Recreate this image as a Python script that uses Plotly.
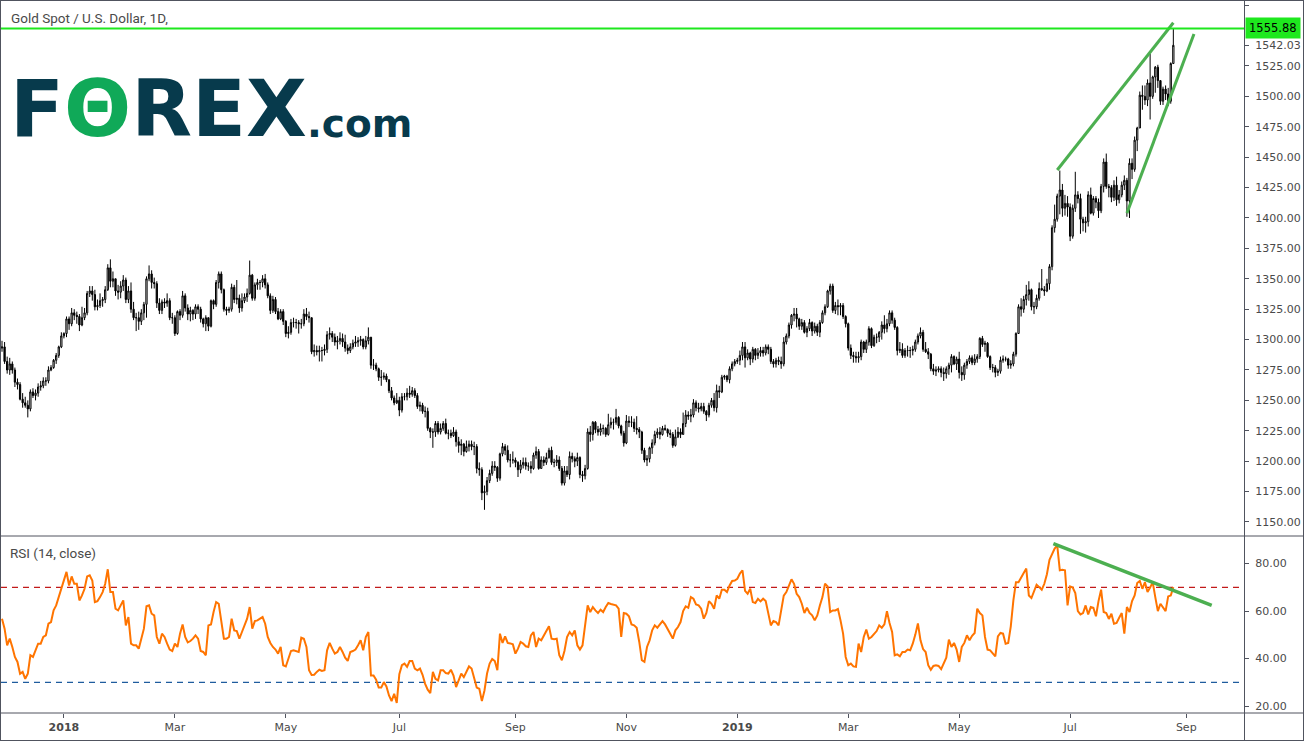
import pandas as pd
import plotly.graph_objects as go

# ---------------- DATA ----------------
first_open = 1293.0
# daily closes, one line per month (Nov 2017 .. Aug 2019)
closes = [
    1294, 1282, 1275,
    1280, 1275, 1265, 1263, 1251, 1248, 1246, 1243, 1257, 1254, 1256, 1261, 1262, 1266, 1266, 1275, 1277, 1283, 1287, 1294, 1303,
    1305, 1317, 1313, 1322, 1320, 1319, 1312, 1318, 1322, 1338, 1340, 1337, 1327, 1328, 1332, 1333, 1341, 1359, 1348, 1350, 1340, 1339, 1344,
    1349, 1333, 1340, 1325, 1318, 1318, 1315, 1322, 1329, 1350, 1354, 1347, 1346, 1330, 1324, 1331, 1330, 1332, 1318, 1318,
    1305, 1323, 1320, 1336, 1326, 1321, 1324, 1321, 1327, 1325, 1317, 1313, 1318, 1311, 1332, 1329, 1347, 1354, 1341, 1325, 1324, 1325,
    1343, 1333, 1334, 1326, 1332, 1335, 1338, 1353, 1334, 1345, 1347, 1347, 1350, 1345, 1336, 1324, 1333, 1323, 1317, 1323, 1315,
    1305, 1306, 1314, 1314, 1314, 1313, 1313, 1321, 1319, 1318, 1290, 1291, 1290, 1291, 1291, 1292, 1304, 1305, 1302, 1298, 1299, 1301, 1298,
    1293, 1291, 1294, 1297, 1298, 1299, 1300, 1294, 1299, 1302, 1279, 1279, 1276, 1269, 1269, 1270, 1267, 1258, 1252, 1248, 1250,
    1242, 1253, 1253, 1256, 1255, 1258, 1254, 1245, 1246, 1241, 1241, 1227, 1224, 1224, 1231, 1224, 1227, 1231, 1223, 1223, 1221, 1224,
    1216, 1213, 1214, 1208, 1212, 1214, 1212, 1212, 1194, 1193, 1174, 1175, 1184, 1190, 1196, 1195, 1186, 1206, 1212, 1209, 1201, 1201, 1201,
    1199, 1193, 1197, 1199, 1196, 1196, 1194, 1205, 1208, 1194, 1201, 1199, 1203, 1209, 1199, 1199, 1201, 1194, 1182, 1192,
    1189, 1204, 1202, 1200, 1203, 1189, 1188, 1194, 1224, 1222, 1232, 1226, 1224, 1227, 1227, 1222, 1230, 1232, 1232, 1236, 1229, 1223, 1215,
    1233, 1232, 1232, 1227, 1226, 1224, 1209, 1201, 1202, 1211, 1215, 1222, 1224, 1222, 1227, 1226, 1223, 1222, 1213, 1220, 1224, 1222,
    1231, 1238, 1237, 1238, 1248, 1244, 1243, 1245, 1241, 1238, 1246, 1250, 1244, 1258, 1257, 1269, 1270, 1267, 1276, 1280, 1282,
    1283, 1287, 1294, 1285, 1289, 1284, 1292, 1287, 1289, 1291, 1289, 1294, 1292, 1282, 1280, 1283, 1282, 1280, 1298, 1303, 1312, 1320, 1321,
    1317, 1311, 1314, 1306, 1309, 1314, 1307, 1311, 1306, 1314, 1322, 1327, 1340, 1344, 1324, 1328, 1327, 1328, 1319, 1313,
    1293, 1287, 1286, 1285, 1286, 1298, 1292, 1298, 1309, 1295, 1302, 1302, 1306, 1312, 1309, 1313, 1322, 1316, 1310, 1291, 1292,
    1287, 1291, 1291, 1291, 1292, 1298, 1303, 1306, 1292, 1290, 1288, 1276, 1274, 1275, 1276, 1273, 1272, 1276, 1279, 1286, 1280, 1284,
    1273, 1271, 1279, 1282, 1285, 1281, 1284, 1286, 1301, 1296, 1297, 1286, 1277, 1277, 1273, 1274, 1283, 1284, 1284, 1279, 1280, 1288, 1305,
    1327, 1325, 1333, 1337, 1341, 1327, 1327, 1334, 1342, 1341, 1340, 1346, 1360, 1392, 1399, 1418, 1423, 1408, 1412, 1409,
    1385, 1408, 1419, 1416, 1399, 1396, 1397, 1419, 1404, 1416, 1413, 1406, 1426, 1446, 1426, 1425, 1417, 1427, 1415, 1419, 1427, 1431, 1414,
    1445, 1440, 1464, 1474, 1501, 1500, 1497, 1511, 1500, 1516, 1524, 1513, 1496, 1506, 1502, 1496, 1527, 1542.03,
]
highs = [
    1299, 1298, 1286,
    1285, 1282, 1277, 1268, 1265, 1256, 1253, 1250, 1259, 1260, 1259, 1264, 1266, 1269, 1269, 1278, 1279, 1284, 1289, 1295, 1306,
    1306, 1319, 1319, 1326, 1325, 1323, 1321, 1327, 1326, 1340, 1344, 1344, 1341, 1333, 1338, 1335, 1344, 1362, 1366, 1356, 1350, 1345, 1348,
    1353, 1351, 1344, 1347, 1331, 1322, 1323, 1325, 1331, 1352, 1361, 1357, 1351, 1348, 1334, 1333, 1334, 1338, 1334, 1322,
    1320, 1324, 1325, 1340, 1338, 1329, 1327, 1325, 1329, 1329, 1327, 1318, 1320, 1318, 1333, 1333, 1349, 1356, 1356, 1342, 1327, 1327,
    1346, 1345, 1349, 1337, 1338, 1338, 1342, 1365, 1354, 1347, 1350, 1349, 1353, 1354, 1347, 1338, 1336, 1335, 1326, 1325, 1325,
    1316, 1311, 1317, 1318, 1317, 1316, 1317, 1325, 1326, 1323, 1318, 1296, 1295, 1295, 1294, 1296, 1307, 1310, 1307, 1305, 1303, 1306, 1305,
    1304, 1296, 1297, 1300, 1303, 1302, 1303, 1301, 1303, 1310, 1302, 1284, 1281, 1277, 1275, 1273, 1272, 1267, 1261, 1254, 1256,
    1253, 1256, 1256, 1260, 1262, 1261, 1260, 1256, 1249, 1248, 1245, 1244, 1228, 1227, 1233, 1233, 1231, 1233, 1235, 1226, 1226, 1228,
    1226, 1220, 1218, 1215, 1217, 1217, 1217, 1216, 1214, 1199, 1195, 1180, 1187, 1193, 1200, 1200, 1196, 1207, 1215, 1214, 1213, 1206, 1208,
    1203, 1200, 1201, 1203, 1203, 1199, 1200, 1207, 1212, 1210, 1204, 1204, 1207, 1211, 1212, 1202, 1205, 1204, 1196, 1196,
    1196, 1208, 1207, 1204, 1207, 1204, 1192, 1197, 1227, 1229, 1233, 1233, 1229, 1231, 1230, 1228, 1239, 1236, 1235, 1243, 1237, 1230, 1225,
    1238, 1237, 1237, 1235, 1237, 1228, 1225, 1211, 1205, 1212, 1218, 1225, 1227, 1228, 1229, 1230, 1227, 1226, 1224, 1226, 1228, 1227,
    1240, 1242, 1241, 1243, 1251, 1250, 1248, 1248, 1248, 1242, 1248, 1252, 1256, 1263, 1262, 1271, 1271, 1271, 1278, 1282, 1284,
    1285, 1291, 1298, 1298, 1292, 1290, 1294, 1293, 1293, 1294, 1294, 1296, 1296, 1294, 1284, 1285, 1286, 1286, 1302, 1305, 1314, 1321, 1326,
    1326, 1318, 1317, 1316, 1311, 1317, 1315, 1314, 1313, 1316, 1324, 1329, 1341, 1346, 1346, 1331, 1333, 1330, 1330, 1320,
    1314, 1296, 1290, 1290, 1290, 1300, 1299, 1300, 1311, 1310, 1304, 1305, 1307, 1315, 1320, 1317, 1324, 1324, 1318, 1311, 1298,
    1297, 1293, 1295, 1294, 1295, 1300, 1305, 1310, 1308, 1298, 1293, 1289, 1280, 1278, 1278, 1278, 1277, 1278, 1281, 1288, 1287, 1286,
    1290, 1278, 1281, 1284, 1287, 1287, 1288, 1288, 1302, 1303, 1299, 1298, 1287, 1280, 1279, 1276, 1286, 1287, 1286, 1285, 1283, 1290, 1306,
    1329, 1334, 1336, 1345, 1348, 1342, 1331, 1337, 1347, 1358, 1344, 1350, 1362, 1394, 1411, 1420, 1439, 1428, 1419, 1418,
    1412, 1411, 1438, 1422, 1420, 1401, 1401, 1422, 1425, 1418, 1418, 1416, 1428, 1449, 1453, 1428, 1427, 1431, 1434, 1423, 1430, 1435, 1433,
    1449, 1449, 1467, 1475, 1504, 1509, 1509, 1514, 1535, 1517, 1525, 1526, 1513, 1508, 1509, 1507, 1528, 1555.88,
]
lows = [
    1290, 1280, 1272,
    1271, 1272, 1261, 1259, 1250, 1244, 1244, 1236, 1241, 1252, 1250, 1253, 1258, 1260, 1262, 1264, 1274, 1276, 1280, 1285, 1293,
    1301, 1302, 1308, 1311, 1316, 1313, 1307, 1311, 1316, 1320, 1335, 1332, 1324, 1324, 1326, 1327, 1330, 1340, 1343, 1343, 1336, 1333, 1334,
    1340, 1330, 1330, 1322, 1316, 1307, 1308, 1312, 1316, 1318, 1348, 1342, 1342, 1326, 1321, 1321, 1326, 1327, 1316, 1313,
    1303, 1304, 1316, 1318, 1323, 1316, 1315, 1316, 1317, 1321, 1314, 1310, 1307, 1307, 1310, 1325, 1327, 1342, 1338, 1323, 1320, 1322,
    1323, 1330, 1329, 1322, 1323, 1330, 1331, 1337, 1332, 1332, 1341, 1341, 1343, 1342, 1334, 1321, 1322, 1321, 1316, 1316, 1312,
    1302, 1301, 1304, 1310, 1309, 1305, 1309, 1311, 1316, 1314, 1288, 1286, 1287, 1282, 1282, 1287, 1289, 1300, 1298, 1295, 1292, 1296, 1294,
    1290, 1288, 1289, 1292, 1294, 1294, 1295, 1292, 1292, 1296, 1276, 1275, 1274, 1266, 1262, 1267, 1265, 1256, 1250, 1246, 1247,
    1237, 1240, 1250, 1250, 1252, 1253, 1252, 1243, 1241, 1239, 1236, 1225, 1219, 1211, 1220, 1222, 1222, 1225, 1222, 1218, 1219, 1220,
    1212, 1207, 1205, 1204, 1207, 1208, 1209, 1205, 1190, 1188, 1168, 1160, 1172, 1182, 1188, 1192, 1183, 1184, 1204, 1205, 1199, 1195, 1198,
    1195, 1187, 1190, 1194, 1193, 1192, 1190, 1193, 1202, 1193, 1194, 1196, 1197, 1202, 1197, 1195, 1196, 1192, 1180, 1180,
    1187, 1185, 1199, 1195, 1196, 1186, 1183, 1185, 1193, 1216, 1217, 1223, 1221, 1221, 1222, 1220, 1221, 1227, 1226, 1230, 1227, 1221, 1212,
    1214, 1228, 1228, 1224, 1222, 1219, 1206, 1199, 1196, 1199, 1206, 1213, 1219, 1218, 1221, 1225, 1220, 1219, 1211, 1212, 1219, 1219,
    1222, 1228, 1234, 1232, 1236, 1241, 1240, 1241, 1239, 1233, 1236, 1244, 1241, 1240, 1252, 1256, 1267, 1265, 1264, 1274, 1278,
    1280, 1279, 1283, 1277, 1283, 1279, 1281, 1283, 1284, 1286, 1286, 1287, 1288, 1280, 1277, 1277, 1279, 1276, 1278, 1296, 1301, 1309, 1315,
    1310, 1308, 1308, 1305, 1302, 1307, 1303, 1305, 1303, 1302, 1313, 1320, 1326, 1337, 1322, 1321, 1320, 1320, 1317, 1310,
    1291, 1284, 1281, 1281, 1281, 1283, 1289, 1289, 1295, 1293, 1294, 1297, 1298, 1300, 1305, 1306, 1311, 1313, 1308, 1287, 1289,
    1285, 1285, 1286, 1285, 1287, 1290, 1296, 1301, 1290, 1289, 1284, 1274, 1271, 1270, 1273, 1269, 1266, 1268, 1271, 1273, 1279, 1275,
    1268, 1266, 1267, 1276, 1280, 1279, 1279, 1281, 1284, 1294, 1290, 1285, 1275, 1273, 1269, 1270, 1272, 1281, 1282, 1276, 1276, 1278, 1286,
    1305, 1319, 1322, 1328, 1332, 1324, 1321, 1325, 1332, 1340, 1336, 1339, 1341, 1357, 1388, 1397, 1403, 1401, 1402, 1401,
    1381, 1383, 1405, 1412, 1387, 1389, 1388, 1393, 1403, 1402, 1408, 1400, 1404, 1421, 1424, 1417, 1413, 1414, 1410, 1412, 1417, 1423, 1401,
    1400, 1432, 1438, 1455, 1474, 1489, 1493, 1492, 1481, 1498, 1503, 1507, 1493, 1493, 1497, 1492, 1494, 1527,
]
rsi = [
    56.8, 52.6, 45.6,
    48.4, 44.9, 40.7, 38.6, 33.6, 34.4, 31.5, 33.6, 41.4, 40.7, 43.5, 46.3, 46.3, 49.1, 49.8, 54.7, 55.4, 60.3, 62.4, 65.9, 69.4,
    72.2, 76.5, 70.8, 74.6, 71.5, 71.5, 64.5, 66.6, 69.4, 74.6, 75.1, 72.9, 63.8, 64.2, 65.9, 68.0, 71.5, 77.6, 68.0, 68.0, 61.0, 60.3, 62.4,
    64.5, 54.0, 57.5, 46.3, 45.6, 45.6, 44.2, 48.4, 52.6, 62.0, 62.4, 58.9, 58.2, 49.1, 46.3, 50.5, 49.1, 46.3, 43.8, 43.2,
    46.3, 44.9, 50.5, 54.4, 49.1, 46.8, 47.4, 48.4, 49.8, 48.4, 43.2, 42.8, 41.4, 54.0, 54.4, 59.6, 63.8, 63.1, 56.1, 48.4, 48.4, 49.1,
    56.8, 51.9, 51.6, 48.4, 51.2, 54.0, 56.8, 61.7, 52.6, 55.8, 56.1, 56.8, 57.5, 54.7, 49.1, 46.6, 44.9, 43.8, 42.1, 44.9, 37.2,
    36.7, 40.0, 43.2, 43.5, 43.2, 42.8, 48.8, 48.4, 44.9, 35.1, 33.1, 33.2, 34.4, 35.3, 34.8, 35.1, 43.5, 46.6, 44.2, 42.1, 42.8, 44.9, 42.8,
    40.4, 39.0, 42.8, 43.2, 43.8, 45.6, 47.7, 43.5, 49.1, 51.2, 32.9, 32.9, 31.1, 27.8, 27.8, 30.1, 28.3, 24.5, 22.1, 25.2, 21.3,
    33.4, 37.2, 37.9, 36.5, 39.0, 39.0, 35.8, 35.1, 35.8, 33.2, 29.4, 26.9, 25.5, 34.4, 31.5, 30.8, 35.1, 35.1, 33.9, 33.7, 35.3, 32.9,
    28.0, 30.8, 33.7, 32.2, 34.8, 36.7, 35.8, 32.2, 27.8, 27.3, 22.1, 26.6, 33.7, 37.9, 39.8, 39.0, 35.1, 50.5, 46.6, 49.4, 46.6, 46.4, 46.0,
    42.1, 44.2, 47.0, 46.3, 45.2, 44.9, 49.8, 51.2, 44.9, 48.4, 47.7, 49.8, 51.9, 53.6, 48.4, 48.2, 48.4, 41.4, 39.3, 43.2,
    49.1, 51.2, 49.8, 51.9, 45.6, 43.8, 45.6, 54.7, 62.4, 59.6, 61.7, 60.3, 59.2, 60.6, 59.6, 61.7, 63.4, 63.0, 62.8, 62.4, 61.0, 49.1, 59.2,
    58.9, 57.8, 54.4, 54.0, 53.0, 47.0, 39.3, 38.6, 44.9, 47.7, 51.9, 54.0, 53.0, 54.4, 55.8, 54.4, 52.7, 50.5, 48.4, 51.9, 53.3, 55.4,
    60.0, 62.0, 61.4, 65.9, 65.2, 62.8, 62.4, 61.0, 56.8, 59.2, 64.2, 63.1, 61.0, 66.6, 65.2, 69.0, 69.0, 68.0, 70.8, 72.7, 72.9,
    73.6, 75.8, 77.2, 68.5, 67.3, 69.4, 63.8, 63.4, 65.2, 64.1, 65.2, 64.2, 58.9, 54.0, 55.8, 55.4, 54.0, 60.3, 66.5, 68.0, 70.8, 73.4, 71.5,
    67.3, 65.9, 63.1, 59.2, 61.4, 59.2, 58.2, 56.1, 58.2, 62.4, 65.9, 71.5, 70.4, 59.6, 60.3, 60.3, 60.9, 56.1, 50.5, 40.7,
    37.2, 37.9, 36.7, 36.5, 46.3, 42.8, 49.1, 52.2, 48.4, 49.1, 50.2, 51.6, 54.0, 53.0, 54.4, 60.0, 55.0, 51.2, 41.4, 41.8, 41.0,
    42.8, 42.8, 43.8, 43.5, 46.3, 50.1, 54.8, 47.7, 44.0, 42.8, 37.2, 35.3, 36.9, 37.2, 36.9, 35.6, 38.1, 40.4, 48.0, 44.9, 46.6, 43.8,
    38.6, 44.9, 46.6, 49.8, 47.7, 49.6, 50.8, 61.0, 59.2, 58.2, 49.1, 43.8, 43.5, 42.1, 40.9, 49.4, 50.8, 50.5, 46.3, 46.6, 53.6, 64.5, 72.2,
    72.2, 74.4, 76.0, 77.9, 66.6, 65.5, 68.5, 71.1, 70.1, 69.0, 71.5, 75.5, 81.6, 84.2, 86.3, 87.7, 77.2, 77.4, 77.2, 62.4,
    70.4, 69.9, 67.6, 60.0, 58.6, 59.2, 62.4, 58.6, 61.7, 61.4, 57.8, 64.2, 69.0, 59.6, 59.2, 56.7, 58.9, 54.7, 55.0, 57.2, 59.2, 50.5, 61.7,
    59.6, 64.2, 66.6, 71.8, 72.7, 69.4, 72.2, 68.0, 69.9, 72.2, 65.9, 60.0, 63.1, 61.7, 60.0, 66.2, 66.6, 70.1,
]

start_date, end_date = "2017-11-28", "2019-08-26"

price_ticks = [1150, 1175, 1200, 1225, 1250, 1275, 1300, 1325, 1350, 1375,
               1400, 1425, 1450, 1475, 1500, 1525, 1575]
last_price = 1542.03
hline_price = 1555.88
rsi_ticks = [20, 40, 60, 80]
rsi_upper, rsi_lower = 70, 30

month_ticks = ["2018-01-01", "2018-03-01", "2018-05-01", "2018-07-02", "2018-09-03", "2018-11-01",
               "2019-01-01", "2019-03-01", "2019-05-01", "2019-07-01", "2019-09-02"]
month_labels = ["<b>2018</b>", "Mar", "May", "Jul", "Sep", "Nov",
                "<b>2019</b>", "Mar", "May", "Jul", "Sep"]

# hand-drawn trend lines (dates, values)
upper_wedge_x = ["2019-06-24 12:00", "2019-08-26 12:00"]
upper_wedge_y = [1439.5, 1560.6]
lower_wedge_x = ["2019-07-31 12:00", "2019-09-05 12:00"]
lower_wedge_y = [1404.0, 1551.3]
rsi_trend_x = ["2019-06-21 00:00", "2019-09-16 09:00"]
rsi_trend_y = [88.4, 62.4]

# ---------------- FIGURE ----------------
dates = pd.bdate_range(start_date, end_date) + pd.Timedelta(hours=12)
n = len(dates)
assert len(closes) == n and len(highs) == n and len(lows) == n and len(rsi) == n, (
    n, len(closes), len(highs), len(lows), len(rsi))
opens = [first_open] + closes[:-1]

W, H = 1305, 747
LM, RM, TM, BM = 1, 61, 1, 34
PW, PH = W - LM - RM, H - TM - BM


def pxx(p):
    return (p - LM) / PW


def pxy(p):
    return (H - BM - p) / PH


FRAME = "#50535e"
TXT = "#4a4a4a"
GREEN_H = "#1ee81e"
TREND = "#4caf50"
AX_FONT = dict(family="DejaVu Sans", size=11, color=TXT)

fig = go.Figure()
fig.add_trace(go.Candlestick(
    x=dates, open=opens, high=highs, low=lows, close=closes,
    increasing=dict(line=dict(color="#000000", width=1), fillcolor="#ffffff"),
    decreasing=dict(line=dict(color="#000000", width=1), fillcolor="#000000"),
    whiskerwidth=0, xaxis="x", yaxis="y", showlegend=False, hoverinfo="skip"))
fig.add_trace(go.Scatter(x=upper_wedge_x, y=upper_wedge_y, mode="lines",
                         line=dict(color=TREND, width=3), xaxis="x", yaxis="y",
                         showlegend=False, hoverinfo="skip"))
fig.add_trace(go.Scatter(x=lower_wedge_x, y=lower_wedge_y, mode="lines",
                         line=dict(color=TREND, width=3), xaxis="x", yaxis="y",
                         showlegend=False, hoverinfo="skip"))
fig.add_trace(go.Scatter(x=dates, y=rsi, mode="lines",
                         line=dict(color="#ff7400", width=2), xaxis="x2", yaxis="y2",
                         showlegend=False, hoverinfo="skip"))
fig.add_trace(go.Scatter(x=rsi_trend_x, y=rsi_trend_y, mode="lines",
                         line=dict(color=TREND, width=3.5), xaxis="x2", yaxis="y2",
                         showlegend=False, hoverinfo="skip"))

x_range = ["2017-11-28 02:40", "2019-10-02 21:20"]
rb = [dict(bounds=["sat", "mon"])]

shapes = []
# RSI bands
for val, col in ((rsi_upper, "#c21a1a"), (rsi_lower, "#1f5c9e")):
    shapes.append(dict(type="line", xref="paper", yref="y2", x0=0, x1=1, y0=val, y1=val,
                       line=dict(color=col, width=1.2, dash="6px,5px"), layer="below"))
# horizontal price level
shapes.append(dict(type="line", xref="paper", yref="y", x0=pxx(0), x1=1, y0=hline_price, y1=hline_price,
                   line=dict(color=GREEN_H, width=2)))


# frame / separators
def hline(yp, x0=0, x1=1304):
    shapes.append(dict(type="line", xref="paper", yref="paper", x0=pxx(x0), x1=pxx(x1),
                       y0=pxy(yp), y1=pxy(yp), line=dict(color=FRAME, width=1)))


def vline(xp, y0=0, y1=741):
    shapes.append(dict(type="line", xref="paper", yref="paper", x0=pxx(xp), x1=pxx(xp),
                       y0=pxy(y0), y1=pxy(y1), line=dict(color=FRAME, width=1)))


hline(0.5); hline(536); hline(713); hline(740.5)
vline(0.5); vline(1244.5); vline(1303.5)

annotations = [
    dict(xref="paper", yref="paper", x=pxx(9), y=pxy(18), xanchor="left", yanchor="middle",
         text="Gold Spot / U.S. Dollar, 1D,", showarrow=False,
         font=dict(family="Roboto", size=13.5, color=TXT)),
    dict(xref="paper", yref="paper", x=pxx(8), y=pxy(553), xanchor="left", yanchor="middle",
         text="RSI (14, close)", showarrow=False,
         font=dict(family="Roboto", size=13.5, color=TXT)),
    dict(xref="paper", yref="paper", x=pxx(8), y=pxy(109), xanchor="left", yanchor="middle",
         text="<b>F<span style='color:#10a958'>Θ</span>REX</b>", showarrow=False,
         font=dict(family="DejaVu Sans", size=79, color="#073a4c")),
    dict(xref="paper", yref="paper", x=pxx(305), y=pxy(123), xanchor="left", yanchor="middle",
         text="<b>.com</b>", showarrow=False,
         font=dict(family="DejaVu Sans", size=39, color="#073a4c")),
    dict(xref="paper", yref="y", x=pxx(1245), y=hline_price, xanchor="left", yanchor="middle",
         text="%.2f" % hline_price, showarrow=False, bgcolor=GREEN_H, borderpad=3,
         font=dict(family="DejaVu Sans", size=11.5, color="#000000")),
]

ytickvals = sorted(price_ticks + [last_price])
yticktext = ["%.2f" % v for v in ytickvals]

fig.update_layout(
    width=W, height=H, margin=dict(l=LM, r=RM, t=TM, b=BM, pad=0),
    paper_bgcolor="#ffffff", plot_bgcolor="#ffffff",
    showlegend=False, hovermode=False,
    xaxis=dict(domain=[0, 1], anchor="y", range=x_range, rangebreaks=rb, type="date",
               showticklabels=False, ticks="", showgrid=False, zeroline=False, showline=False,
               rangeslider=dict(visible=False)),
    xaxis2=dict(domain=[0, 1], anchor="y2", range=x_range, rangebreaks=rb, type="date",
                tickmode="array", tickvals=[d + " 12:00" for d in month_ticks], ticktext=month_labels,
                ticks="outside", ticklen=4, tickcolor=FRAME, tickfont=AX_FONT,
                showgrid=False, zeroline=False, showline=False),
    yaxis=dict(domain=[pxy(535), 1], anchor="x", side="right", range=[1139.3, 1578.45],
               tickmode="array", tickvals=ytickvals, ticktext=yticktext,
               ticks="outside", ticklen=4, tickcolor=FRAME, tickfont=AX_FONT, ticklabelstandoff=4,
               showgrid=False, zeroline=False, showline=False),
    yaxis2=dict(domain=[0, pxy(537)], anchor="x2", side="right", range=[17.1, 91.2],
                tickmode="array", tickvals=rsi_ticks, ticktext=["%.2f" % v for v in rsi_ticks],
                ticks="outside", ticklen=4, tickcolor=FRAME, tickfont=AX_FONT, ticklabelstandoff=4,
                showgrid=False, zeroline=False, showline=False),
    shapes=shapes, annotations=annotations,
)

fig.write_html("out.html", config={"displayModeBar": False},
               post_script="document.body.style.margin='0px';document.body.style.overflow='hidden';")
